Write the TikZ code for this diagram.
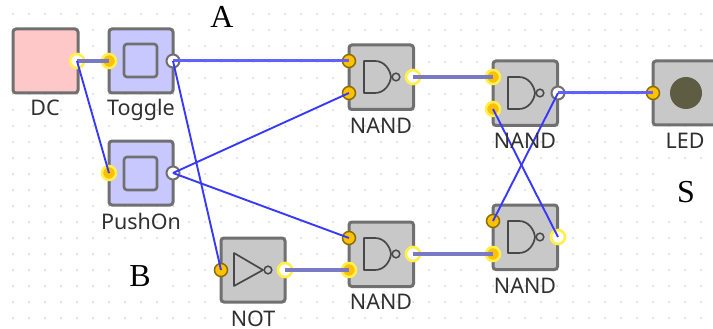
\documentclass[tikz,border=0pt]{standalone}
\usepackage{fontspec}
\setmainfont{Noto Sans}
\newfontfamily\serifletter{Liberation Serif}
\definecolor{edgegrey}{HTML}{707070}
\definecolor{gatefill}{HTML}{C8C8C8}
\definecolor{dcfill}{HTML}{FFC8C8}
\definecolor{swfill}{HTML}{C8C8FF}
\definecolor{portin}{HTML}{FFC000}
\definecolor{portring}{HTML}{8A6D00}
\definecolor{glow}{HTML}{FFF04D}
\definecolor{labelgrey}{HTML}{303030}
\definecolor{symbolgrey}{HTML}{484848}
\tikzset{
  block/.style={draw=edgegrey,line width=3pt,rounded corners=3pt},
  gatebody/.style={block,fill=gatefill},
  swinner/.style={draw=edgegrey,line width=2.6pt,rounded corners=3pt,fill=swfill},
  symbol/.style={draw=symbolgrey,line width=1.7pt,line join=round},
  bubble/.style={draw=symbolgrey,line width=1.5pt,fill=gatefill},
  portbase/.style={circle,inner sep=0pt,minimum size=13pt},
  inoff/.style={portbase,fill=portin,draw=portring,line width=1.5pt},
  inon/.style={portbase,fill=portin,draw=glow,line width=2.5pt,minimum size=14pt},
  outoff/.style={portbase,fill=white,draw=edgegrey,line width=2pt},
  outon/.style={portbase,fill=white,draw=glow,line width=2.7pt,minimum size=14pt},
  wirethin/.style={draw=blue!78!white,line width=1.9pt},
  wiremid/.style={draw=blue!62!white,line width=3pt},
  wirethick/.style={draw=blue!40!gray!75!white,line width=4pt},
  lab/.style={anchor=base,text=labelgrey,font=\fontsize{21.5}{24}\selectfont,inner sep=0pt},
  letter/.style={anchor=base,text=black,font=\serifletter\fontsize{32}{34}\selectfont,inner sep=0pt},
}
\begin{document}
\begin{tikzpicture}[x=1pt,y=-1pt]
\useasboundingbox (0,0) rectangle (713,329);
\clip (0,0) rectangle (713,329);
\fill[white] (0,0) rectangle (713,329);
% grid
\foreach \i in {0,...,43}{\foreach \j in {0,...,19}{
  \fill[black!18] ({13+16*\i},{14+16*\j}) circle (1pt);}}
% white text boxes over the grid
\fill[white] (191,0) rectangle (250,38);
\fill[white] (111,247) rectangle (171,293);
\fill[white] (660,165) rectangle (713,214);
% blocks
\draw[block,fill=dcfill] (13,29) rectangle (78,93);
\draw[block,fill=swfill] (109,29) rectangle (173,93);
\draw[swinner] (124,44) rectangle (157,77);
\draw[block,fill=swfill] (109,141) rectangle (173,205);
\draw[swinner] (124,157) rectangle (157,190);
\draw[gatebody] (221,238) rectangle (285,302);
\draw[symbol] (234,253) -- (263,270) -- (234,286) -- cycle;
\draw[bubble] (268,270) circle (3.8pt);
\foreach \gx/\gy in {349/45,493/61,349/222,493/205}{
  \draw[gatebody] (\gx,\gy) rectangle ({\gx+64.5},{\gy+64.5});
  \draw[symbol] ({\gx+15},{\gy+16}) -- ({\gx+26},{\gy+16})
    .. controls ({\gx+35},{\gy+16}) and ({\gx+41},{\gy+24}) .. ({\gx+42},{\gy+32})
    .. controls ({\gx+41},{\gy+40}) and ({\gx+35},{\gy+48}) .. ({\gx+26},{\gy+48})
    -- ({\gx+15},{\gy+48}) -- cycle;
  \draw[bubble] ({\gx+47},{\gy+32}) circle (3.8pt);
}
\draw[gatebody] (653,61) rectangle (730,125);
\fill[fill=black!60!yellow!70!black] (686,93) circle (16pt);
% ports
\node[outon]  (dcout)  at (77,61) {};
\node[inon]   (togin)  at (109,61) {};
\node[outoff] (togout) at (173,61) {};
\node[inon]   (pushin) at (109,173) {};
\node[outoff] (pushout) at (173,173) {};
\node[inoff]  (notin)  at (221,270) {};
\node[outon]  (notout) at (285,270) {};
\node[inoff]  (aina)   at (349,61) {};
\node[inoff]  (ainb)   at (349,93) {};
\node[outon]  (aout)   at (413,77) {};
\node[inon]   (bina)   at (493,77) {};
\node[inon]   (binb)   at (493,109) {};
\node[outoff] (bout)   at (558,93) {};
\node[inoff]  (cina)   at (349,238) {};
\node[inon]   (cinb)   at (349,270) {};
\node[outon]  (cout)   at (413,254) {};
\node[inoff]  (dina)   at (493,221) {};
\node[inon]   (dinb)   at (493,254) {};
\node[outon]  (dout)   at (558,237) {};
\node[inoff]  (ledin)  at (653,93) {};
% connectors
\draw[wirethick] (dcout.center) -- (togin.center);
\draw[wirethick] (notout.center) -- (cinb.center);
\draw[wirethick] (aout.center) -- (bina.center);
\draw[wirethick] (cout.center) -- (dinb.center);
\draw[wiremid] (togout.center) -- (aina.center);
\draw[wiremid] (bout.center) -- (ledin.center);
\draw[wirethin] (dcout.center) -- (pushin.center);
\draw[wirethin] (togout.center) -- (notin.center);
\draw[wirethin] (pushout.center) -- (ainb.center);
\draw[wirethin] (pushout.center) -- (cina.center);
\draw[wirethin] (bout.center) -- (dina.center);
\draw[wirethin] (dout.center) -- (binb.center);
% labels
\node[lab] (ldc) at (45,116) {DC};
\node[lab] (ltog) at (141,116) {Toggle};
\node[lab] (lpush) at (141,229) {PushOn};
\node[lab] (lnot) at (253,326) {NOT};
\node[lab] (la) at (381,133) {NAND};
\node[lab] (lb) at (525,148) {NAND};
\node[lab] (lc) at (381,309) {NAND};
\node[lab] (ld) at (525,293) {NAND};
\node[lab] (lled) at (685,148) {LED};
\node[letter] (tA) at (222,28) {A};
\node[letter] (tB) at (140,286) {B};
\node[letter] (tS) at (686,202) {S};
\end{tikzpicture}
\end{document}
